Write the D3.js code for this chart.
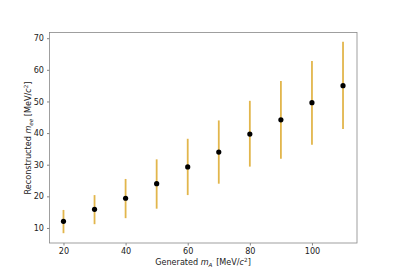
<!DOCTYPE html>
<html><head><meta charset="utf-8">
<script src="https://cdn.jsdelivr.net/npm/d3@7"></script>
<style>body{margin:0;background:#fff}svg{display:block}text{font-family:"DejaVu Sans",sans-serif}</style>
</head><body><svg id="c" width="397" height="273"></svg>
<script>
const generated = [20, 30, 40, 50, 60, 70, 80, 90, 100, 110];
const reconstructed = [12.1, 15.9, 19.4, 24.0, 29.3, 34.0, 39.7, 44.2, 49.6, 55.0];
const lowerBound = [8.35, 11.2, 13.1, 16.1, 20.4, 24.0, 29.4, 31.9, 36.3, 41.3];
const upperBound = [15.7, 20.4, 25.5, 31.7, 38.2, 44.0, 50.2, 56.5, 62.8, 68.9];
const xTicks = [20, 40, 60, 80, 100];
const yTicks = [10, 20, 30, 40, 50, 60, 70];

const svg = d3.select("#c");
const L = 49.5, R = 357, T = 32.5, B = 243;
const x = d3.scaleLinear().domain([15.5, 114.5]).range([L, R]);
const y = d3.scaleLinear().domain([5.25, 71.8]).range([B, T]);
const fs = 8.1;

// axes
const gx = svg.append("g").attr("transform", `translate(0,${B})`)
  .call(d3.axisBottom(x).tickValues(xTicks).tickSize(2.5).tickPadding(3).tickFormat(d3.format("d")));
const gy = svg.append("g").attr("transform", `translate(${L},0)`)
  .call(d3.axisLeft(y).tickValues(yTicks).tickSize(2.5).tickPadding(3).tickFormat(d3.format("d")));
[gx, gy].forEach(g => {
  g.select(".domain").remove();
  g.selectAll(".tick line").attr("stroke", "#333").attr("stroke-width", 0.6);
  g.selectAll(".tick text").attr("font-size", fs).attr("fill", "#222").style("font-family", "DejaVu Sans");
});
svg.append("rect").attr("x", L).attr("y", T).attr("width", R - L).attr("height", B - T)
  .attr("fill", "none").attr("stroke", "#888").attr("stroke-width", 0.8);

// error bars
svg.append("g").selectAll("line").data(generated).join("line")
  .attr("x1", d => x(d)).attr("x2", d => x(d))
  .attr("y1", (d, i) => y(lowerBound[i])).attr("y2", (d, i) => y(upperBound[i]))
  .attr("stroke", "#e2b64c").attr("stroke-width", 1.8);
// points
svg.append("g").selectAll("circle").data(generated).join("circle")
  .attr("cx", d => x(d)).attr("cy", (d, i) => y(reconstructed[i])).attr("r", 2.6).attr("fill", "#000");

// labels
const xl = svg.append("text").attr("x", 203).attr("y", 265).attr("text-anchor", "middle").attr("font-size", fs).attr("fill", "#222");
xl.append("tspan").text("Generated ");
xl.append("tspan").attr("font-style", "italic").text("m");
xl.append("tspan").attr("font-style", "italic").attr("font-size", fs * 0.7).attr("dy", 1.5).text("A");
xl.append("tspan").attr("font-size", fs * 0.6).attr("dy", -2.5).text("′");
xl.append("tspan").attr("dy", 1).text(" [MeV/");
xl.append("tspan").attr("font-style", "italic").text("c");
xl.append("tspan").attr("font-size", fs * 0.7).attr("dy", -3.5).text("2");
xl.append("tspan").attr("dy", 3.5).text("]");

const yl = svg.append("text").attr("transform", "translate(31,138) rotate(-90)").attr("text-anchor", "middle").attr("font-size", fs).attr("fill", "#222");
yl.append("tspan").text("Reconstructed ");
yl.append("tspan").attr("font-style", "italic").text("m");
yl.append("tspan").attr("font-style", "italic").attr("font-size", fs * 0.7).attr("dy", 1.5).text("ee");
yl.append("tspan").attr("dy", -1.5).text(" [MeV/");
yl.append("tspan").attr("font-style", "italic").text("c");
yl.append("tspan").attr("font-size", fs * 0.7).attr("dy", -3.5).text("2");
yl.append("tspan").attr("dy", 3.5).text("]");
</script></body></html>
